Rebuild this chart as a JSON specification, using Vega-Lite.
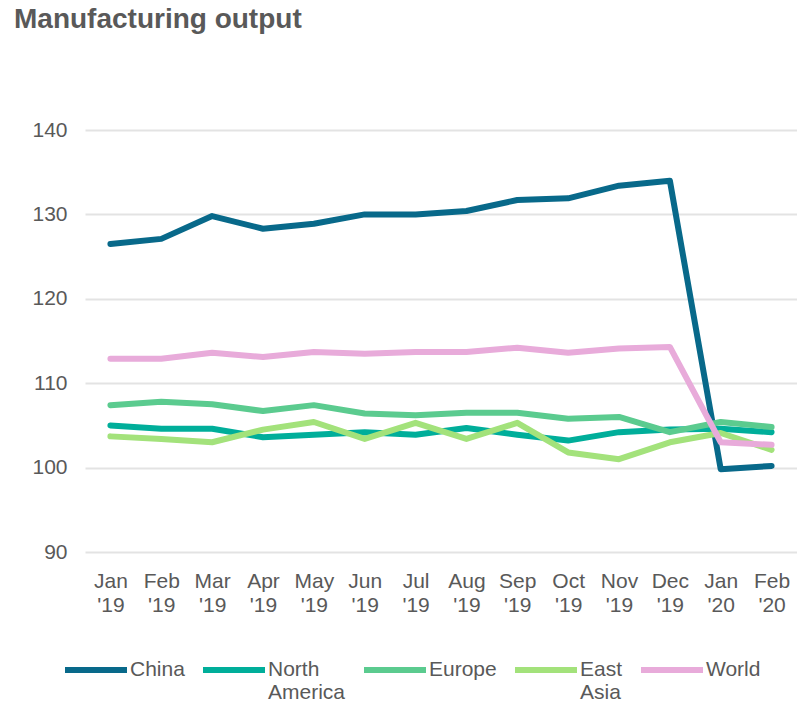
{
  "$schema": "https://vega.github.io/schema/vega-lite/v6.json",
  "width": 712,
  "height": 422,
  "autosize": {"type": "none"},
  "padding": {"left": 85, "top": 130, "right": 0, "bottom": 152},
  "background": "white",
  "title": {
    "text": "Manufacturing output",
    "anchor": "start",
    "frame": "group",
    "dx": -71,
    "offset": 63,
    "baseline": "alphabetic",
    "font": "Liberation Sans",
    "fontSize": 28,
    "fontWeight": "bold",
    "color": "#595959"
  },
  "config": {
    "view": {"stroke": null},
    "font": "Liberation Sans"
  },
  "data": {
    "values": [
      {"month": "Jan '19", "region": "China", "value": 126.5},
      {"month": "Feb '19", "region": "China", "value": 127.1},
      {"month": "Mar '19", "region": "China", "value": 129.8},
      {"month": "Apr '19", "region": "China", "value": 128.3},
      {"month": "May '19", "region": "China", "value": 128.9},
      {"month": "Jun '19", "region": "China", "value": 130.0},
      {"month": "Jul '19", "region": "China", "value": 130.0},
      {"month": "Aug '19", "region": "China", "value": 130.4},
      {"month": "Sep '19", "region": "China", "value": 131.7},
      {"month": "Oct '19", "region": "China", "value": 131.9},
      {"month": "Nov '19", "region": "China", "value": 133.4},
      {"month": "Dec '19", "region": "China", "value": 134.0},
      {"month": "Jan '20", "region": "China", "value": 99.8},
      {"month": "Feb '20", "region": "China", "value": 100.2},
      {"month": "Jan '19", "region": "North America", "value": 105.0},
      {"month": "Feb '19", "region": "North America", "value": 104.6},
      {"month": "Mar '19", "region": "North America", "value": 104.6},
      {"month": "Apr '19", "region": "North America", "value": 103.6},
      {"month": "May '19", "region": "North America", "value": 103.9},
      {"month": "Jun '19", "region": "North America", "value": 104.2},
      {"month": "Jul '19", "region": "North America", "value": 103.9},
      {"month": "Aug '19", "region": "North America", "value": 104.7},
      {"month": "Sep '19", "region": "North America", "value": 103.9},
      {"month": "Oct '19", "region": "North America", "value": 103.2},
      {"month": "Nov '19", "region": "North America", "value": 104.2},
      {"month": "Dec '19", "region": "North America", "value": 104.5},
      {"month": "Jan '20", "region": "North America", "value": 104.6},
      {"month": "Feb '20", "region": "North America", "value": 104.2},
      {"month": "Jan '19", "region": "Europe", "value": 107.4},
      {"month": "Feb '19", "region": "Europe", "value": 107.8},
      {"month": "Mar '19", "region": "Europe", "value": 107.5},
      {"month": "Apr '19", "region": "Europe", "value": 106.7},
      {"month": "May '19", "region": "Europe", "value": 107.4},
      {"month": "Jun '19", "region": "Europe", "value": 106.4},
      {"month": "Jul '19", "region": "Europe", "value": 106.2},
      {"month": "Aug '19", "region": "Europe", "value": 106.5},
      {"month": "Sep '19", "region": "Europe", "value": 106.5},
      {"month": "Oct '19", "region": "Europe", "value": 105.8},
      {"month": "Nov '19", "region": "Europe", "value": 106.0},
      {"month": "Dec '19", "region": "Europe", "value": 104.2},
      {"month": "Jan '20", "region": "Europe", "value": 105.4},
      {"month": "Feb '20", "region": "Europe", "value": 104.8},
      {"month": "Jan '19", "region": "East Asia", "value": 103.7},
      {"month": "Feb '19", "region": "East Asia", "value": 103.4},
      {"month": "Mar '19", "region": "East Asia", "value": 103.0},
      {"month": "Apr '19", "region": "East Asia", "value": 104.5},
      {"month": "May '19", "region": "East Asia", "value": 105.4},
      {"month": "Jun '19", "region": "East Asia", "value": 103.4},
      {"month": "Jul '19", "region": "East Asia", "value": 105.3},
      {"month": "Aug '19", "region": "East Asia", "value": 103.4},
      {"month": "Sep '19", "region": "East Asia", "value": 105.3},
      {"month": "Oct '19", "region": "East Asia", "value": 101.8},
      {"month": "Nov '19", "region": "East Asia", "value": 101.0},
      {"month": "Dec '19", "region": "East Asia", "value": 103.0},
      {"month": "Jan '20", "region": "East Asia", "value": 104.1},
      {"month": "Feb '20", "region": "East Asia", "value": 102.1},
      {"month": "Jan '19", "region": "World", "value": 112.9},
      {"month": "Feb '19", "region": "World", "value": 112.9},
      {"month": "Mar '19", "region": "World", "value": 113.6},
      {"month": "Apr '19", "region": "World", "value": 113.1},
      {"month": "May '19", "region": "World", "value": 113.7},
      {"month": "Jun '19", "region": "World", "value": 113.5},
      {"month": "Jul '19", "region": "World", "value": 113.7},
      {"month": "Aug '19", "region": "World", "value": 113.7},
      {"month": "Sep '19", "region": "World", "value": 114.2},
      {"month": "Oct '19", "region": "World", "value": 113.6},
      {"month": "Nov '19", "region": "World", "value": 114.1},
      {"month": "Dec '19", "region": "World", "value": 114.3},
      {"month": "Jan '20", "region": "World", "value": 103.0},
      {"month": "Feb '20", "region": "World", "value": 102.7}
    ]
  },
  "mark": {"type": "line", "strokeWidth": 6, "strokeCap": "round", "strokeJoin": "round"},
  "encoding": {
    "x": {
      "field": "month",
      "type": "ordinal",
      "sort": null,
      "scale": {"type": "point", "padding": 0.5},
      "axis": {
        "title": null,
        "domain": false,
        "ticks": false,
        "grid": false,
        "labelAngle": 0,
        "labelExpr": "split(datum.label, ' ')",
        "labelFontSize": 21,
        "labelColor": "#595959",
        "labelPadding": 18,
        "labelLineHeight": 24,
        "labelBaseline": "top"
      }
    },
    "y": {
      "field": "value",
      "type": "quantitative",
      "scale": {"domain": [90, 140], "nice": false, "zero": false},
      "axis": {
        "title": null,
        "domain": false,
        "ticks": false,
        "values": [90, 100, 110, 120, 130, 140],
        "grid": true,
        "gridColor": "#e3e3e3",
        "gridWidth": 2,
        "labelFontSize": 21,
        "labelColor": "#595959",
        "labelPadding": 18
      }
    },
    "color": {
      "field": "region",
      "type": "nominal",
      "sort": ["China", "North America", "Europe", "East Asia", "World"],
      "scale": {
        "domain": ["China", "North America", "Europe", "East Asia", "World"],
        "range": ["#08698A", "#00AE9A", "#5BCB8F", "#A3E27B", "#E8ABDA"]
      },
      "legend": {
        "title": null,
        "orient": "none",
        "direction": "horizontal",
        "legendX": -23,
        "legendY": 506,
        "symbolType": "stroke",
        "symbolSize": 3844,
        "symbolStrokeWidth": 6,
        "labelFontSize": 21,
        "labelColor": "#595959",
        "labelOffset": 0,
        "labelLimit": 200,
        "columnPadding": 6,
        "labelExpr": "datum.label == 'North America' ? ['North', 'America'] : datum.label == 'East Asia' ? ['East', 'Asia'] : [datum.label, ' ']"
      }
    }
  }
}
